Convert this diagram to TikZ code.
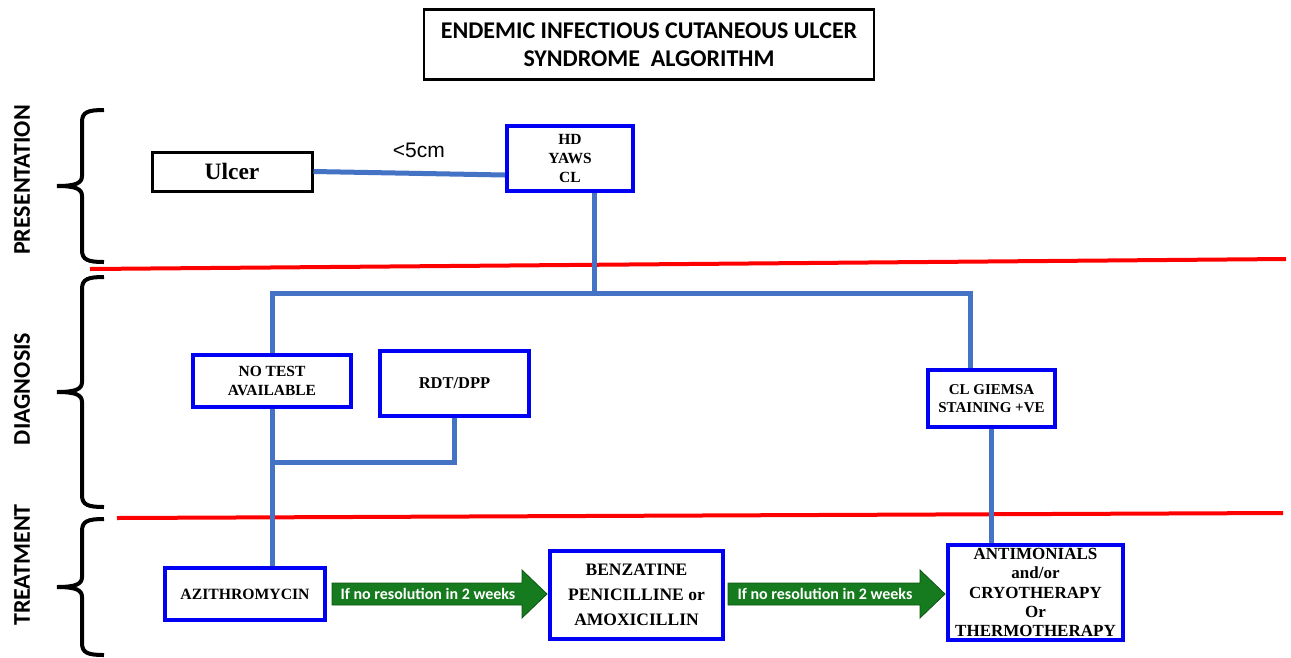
\documentclass[tikz,border=0pt]{standalone}
\usepackage{fontspec}
\setmainfont{Liberation Serif}
\newfontfamily\calibfont{Carlito}
\newfontfamily\arialfont{Liberation Sans}
\usetikzlibrary{calc}
\definecolor{linkblue}{RGB}{68,114,196}
\definecolor{boxblue}{RGB}{0,0,245}
\definecolor{arrgreen}{RGB}{22,122,30}
\definecolor{sepred}{RGB}{255,0,0}
\tikzset{
  titlebox/.style={draw=black,line width=2.5pt,align=center,inner sep=0pt,
    font=\calibfont\bfseries\fontsize{24}{28}\selectfont},
  ulcerbox/.style={draw=black,line width=3pt,inner sep=0pt,
    font=\bfseries\fontsize{23.5}{27}\selectfont},
  stbox/.style={draw=boxblue,line width=4pt,fill=white,align=center,inner sep=0pt},
  link/.style={draw=linkblue,line width=5pt},
  sepline/.style={draw=sepred,line width=4pt},
  brk/.style={draw=black,line width=4pt},
  phase/.style={font=\calibfont\bfseries\fontsize{24}{28}\selectfont,inner sep=0pt},
  sizelbl/.style={font=\arialfont\fontsize{21}{25}\selectfont,inner sep=1pt},
  garrow/.style={fill=arrgreen,draw=arrgreen!70!black,line width=0.8pt},
  arrtxt/.style={text=white,inner sep=0pt,font=\calibfont\bfseries\fontsize{16}{20}\selectfont},
}

\begin{document}
\begin{tikzpicture}[x=1pt,y=-1pt]
  \useasboundingbox[fill=white] (0,0) rectangle (1291,657);

  \node[titlebox,minimum width=450,minimum height=70] (title) at (649,44.5)
    {ENDEMIC INFECTIOUS CUTANEOUS ULCER\\SYNDROME\ \ ALGORITHM};

  \node[phase,rotate=90] (pres) at (22,180) {PRESENTATION};
  \node[phase,rotate=90] (diag) at (22,389) {DIAGNOSIS};
  \node[phase,rotate=90] (treat) at (22,565) {TREATMENT};
  \foreach \t/\b in {110/262,277/507,519/655}{
    \pgfmathsetmacro\m{(\t+\b)/2}
    \draw[brk] (104,\t) .. controls (88,\t) and (82,\t+2) .. (82,\t+12)
      -- (82,\m-10) .. controls (82,\m-3) and (76,\m) .. (57,\m)
      .. controls (76,\m) and (82,\m+3) .. (82,\m+10)
      -- (82,\b-12) .. controls (82,\b-2) and (88,\b) .. (104,\b);
  }

  \draw[sepline] (90,269) -- (1286,259);
  \draw[sepline] (117,518) -- (1283,513);

  \node[ulcerbox,minimum width=160,minimum height=39] (ulcer) at (232,171.5) {Ulcer};
  \node[stbox,minimum width=126,minimum height=65,
    font=\bfseries\fontsize{15.5}{19}\selectfont] (hd) at (570,158.5) {HD\\YAWS\\CL};
  \node[stbox,minimum width=158,minimum height=52,
    font=\bfseries\fontsize{15.5}{19}\selectfont] (notest) at (272,381) {NO TEST\\AVAILABLE};
  \node[stbox,minimum width=149,minimum height=65,
    font=\bfseries\fontsize{16.5}{19}\selectfont] (rdt) at (454.5,383.5) {RDT/DPP};
  \node[stbox,minimum width=127,minimum height=57,
    font=\bfseries\fontsize{15}{18}\selectfont] (giemsa) at (991.5,398.5) {CL GIEMSA\\STAINING +VE};
  \node[stbox,minimum width=160,minimum height=52,
    font=\bfseries\fontsize{15.7}{18}\selectfont] (azi) at (245,594) {AZITHROMYCIN};
  \node[stbox,minimum width=173,minimum height=88,
    font=\bfseries\fontsize{17.5}{25}\selectfont] (benz) at (636.5,595)
    {BENZATINE\\PENICILLINE or\\AMOXICILLIN};
  \node[stbox,minimum width=175,minimum height=95,
    font=\bfseries\fontsize{17}{19.2}\selectfont] (anti) at (1035.5,592.5)
    {ANTIMONIALS\\and/or\\CRYOTHERAPY\\Or\\THERMOTHERAPY};

  \coordinate (jc) at (594,293);
  \coordinate (jr) at (970,293);
  \coordinate (jm) at (272,462);

  \draw[link] (ulcer.east) -- ([yshift=-16.5pt]hd.west)
    node[sizelbl,pos=0.55,above=12pt] (size) {<5cm};
  \draw[link] ([xshift=24pt]hd.south) -- (jc);
  \draw[link] (notest.north) |- (jr) -- (giemsa.north -| jr);
  \draw[link] (notest.south) -- (notest.south |- azi.north);
  \draw[link] (rdt.south) |- (jm);
  \draw[link] (giemsa.south) -- (giemsa.south |- anti.north);

  \fill[garrow] (332,583) -- (522,583) -- (522,570) -- (547,594) -- (522,618)
    -- (522,605) -- (332,605) -- cycle;
  \node[arrtxt] (wait1) at (428,594) {If no resolution in 2 weeks};
  \fill[garrow] (728,583) -- (920,583) -- (920,570) -- (945,594) -- (920,618)
    -- (920,605) -- (728,605) -- cycle;
  \node[arrtxt] (wait2) at (825,594) {If no resolution in 2 weeks};
\end{tikzpicture}
\end{document}
